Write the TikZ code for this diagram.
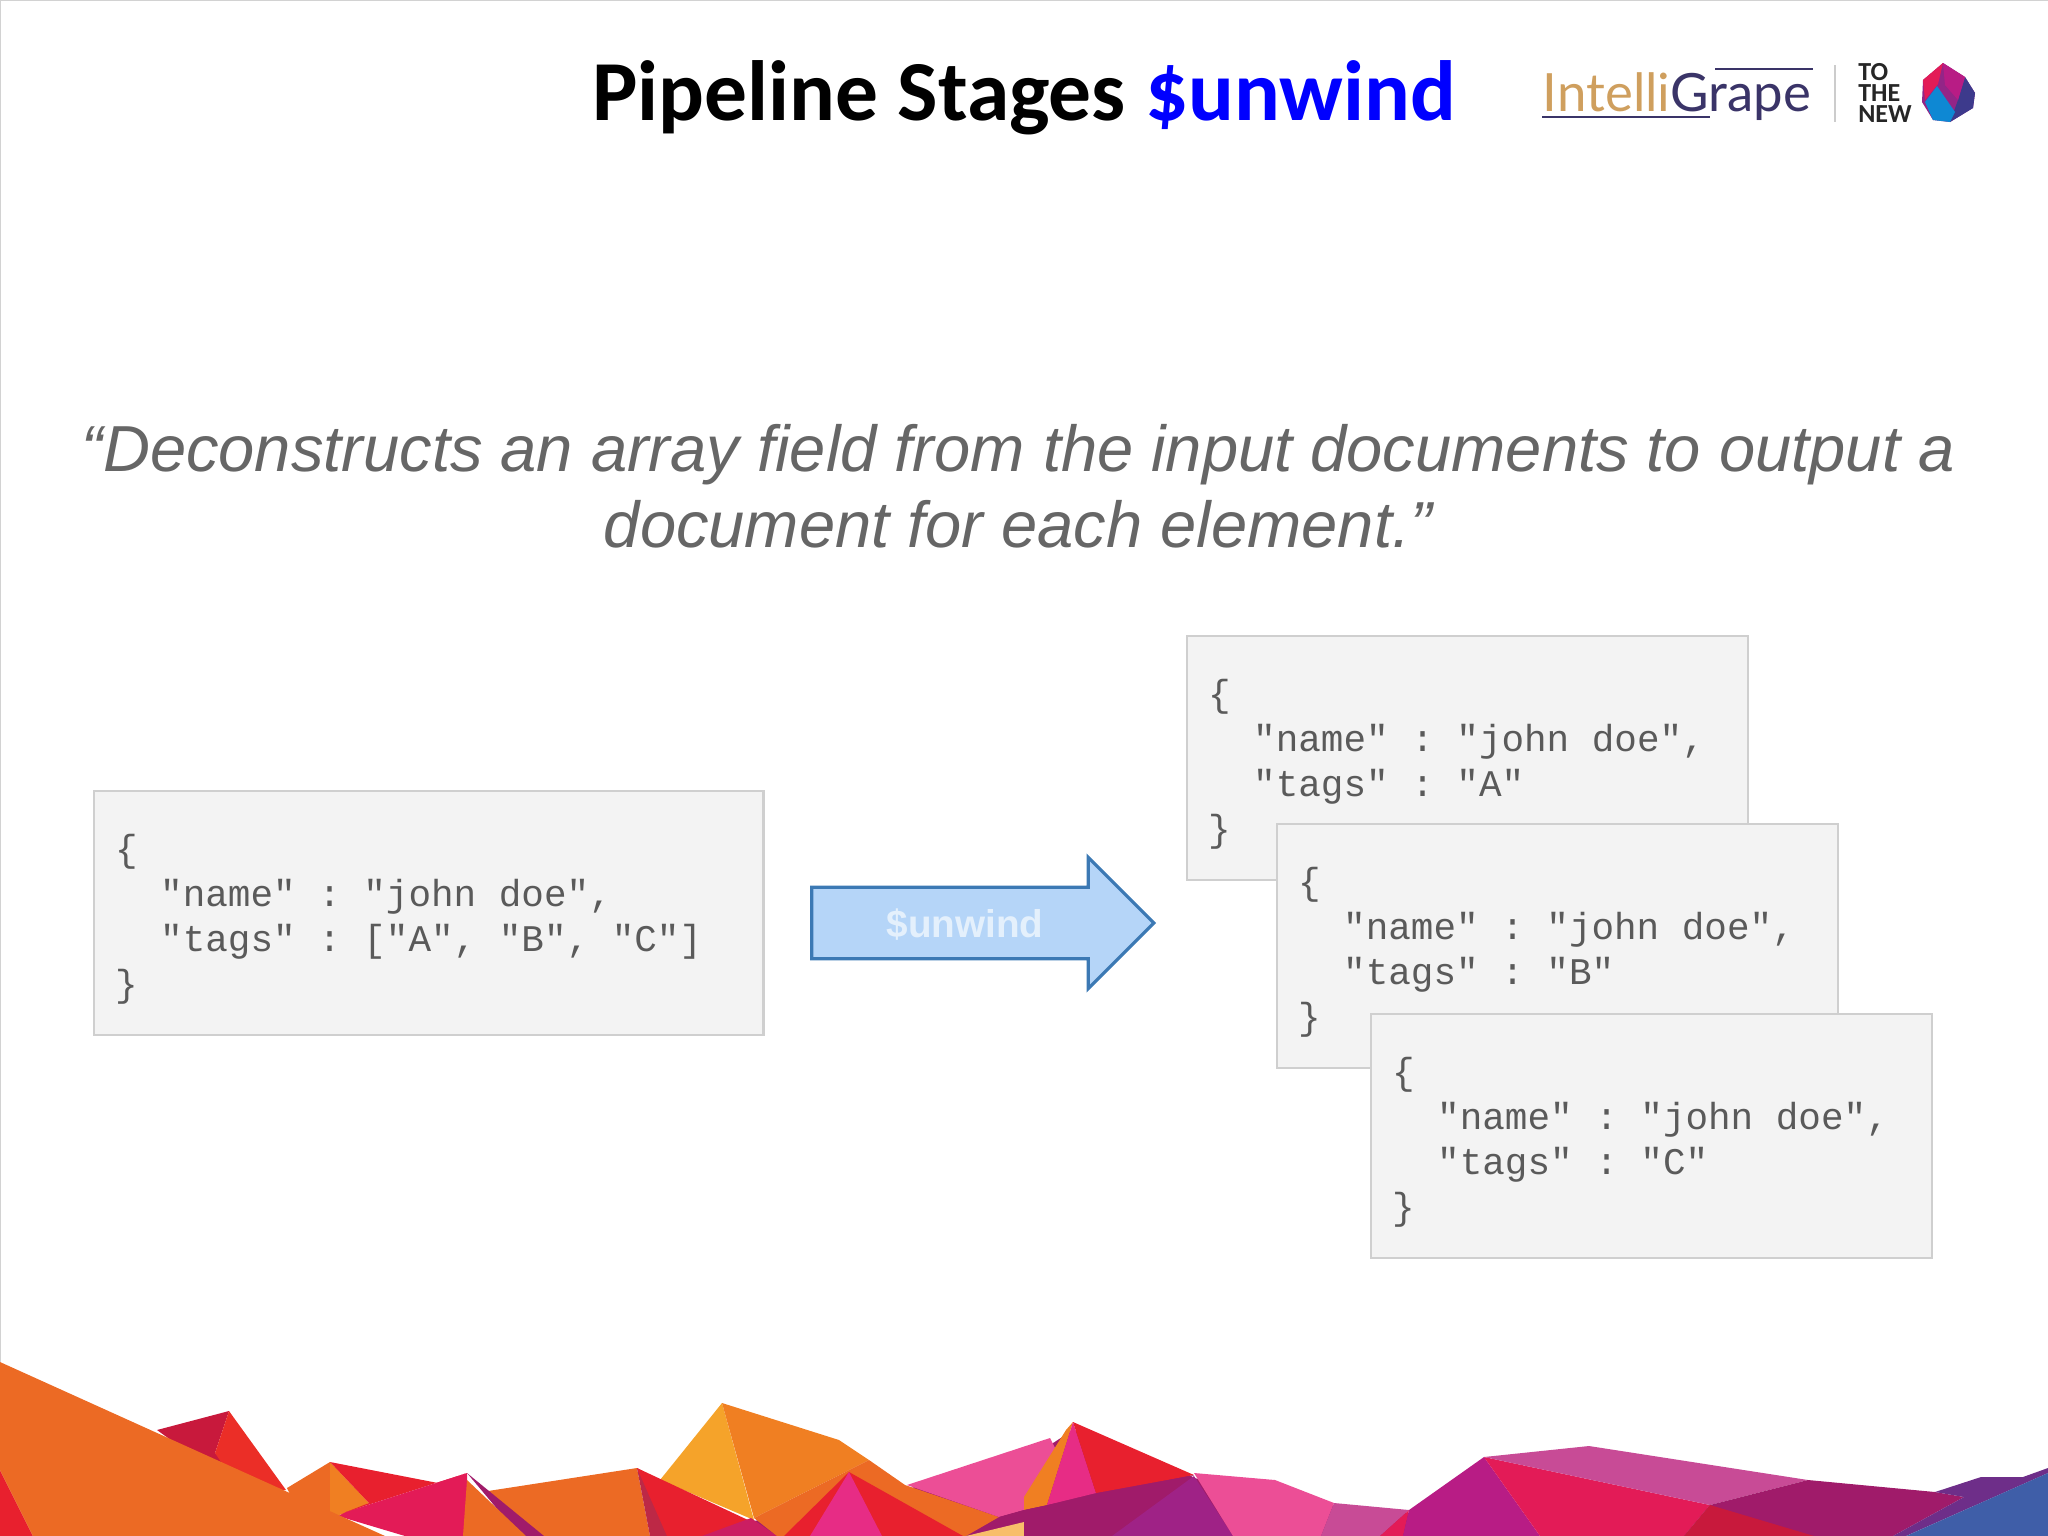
\documentclass[tikz,border=0pt]{standalone}
\usepackage{fontspec}
\setmainfont{Liberation Sans}
\setmonofont{Liberation Mono}
\newfontfamily\titlefont{Carlito}
\newfontfamily\logofont{Lato}
\usetikzlibrary{arrows.meta, positioning, shapes.arrows}
\definecolor{CTitleBlue}{HTML}{0000FF}
\definecolor{CQuote}{HTML}{666666}
\definecolor{CBoxFill}{HTML}{F3F3F3}
\definecolor{CBoxEdge}{HTML}{CFCFCF}
\definecolor{CCode}{HTML}{5A5A5A}
\definecolor{CArrowFill}{HTML}{B5D5F8}
\definecolor{CArrowEdge}{HTML}{3C79B4}
\definecolor{CArrowText}{HTML}{E4F0FC}
\definecolor{CLogoTan}{HTML}{CF9F5E}
\definecolor{CLogoNavy}{HTML}{3A3468}
\definecolor{COrange}{HTML}{EC6A24}
\definecolor{COrangeLight}{HTML}{F07F22}
\definecolor{CYellow}{HTML}{F5A32A}
\definecolor{CRed}{HTML}{E8202E}
\definecolor{CRedDark}{HTML}{C8193C}
\definecolor{CCrimson}{HTML}{E31B57}
\definecolor{CPink}{HTML}{E72C85}
\definecolor{CPinkLight}{HTML}{EC4E96}
\definecolor{CMauve}{HTML}{C84B96}
\definecolor{CPurple}{HTML}{B81C85}
\definecolor{CMaroon}{HTML}{A01B6A}
\definecolor{CNavy}{HTML}{3D3A8C}
\definecolor{CBlue}{HTML}{3F5EA8}
\tikzset{
    docbox/.style={draw=CBoxEdge, line width=0.6pt, fill=CBoxFill, anchor=north west, text=CCode,
        font=\ttfamily\fontsize{10.7}{12.8}\selectfont, align=flush left, inner xsep=0.21cm, inner ysep=0pt,
        text width=5.19cm, minimum height=2.44cm},
}

\begin{document}
\begin{tikzpicture}[x=0.01cm, y=-0.01cm]
    \def\jsondoc#1{\rule{0pt}{11pt}\{\\\ \ "name" : "john doe",\\\ \ "tags" : #1\\\}}
    \useasboundingbox (0,0) rectangle (2048,1536);

    % Slide edge
    \draw[gray!35, line width=0.6pt] (0,1362) -- (0,0) -- (2048,0);

    % Title
    \node[font=\titlefont\bfseries\fontsize{24.3}{28}\selectfont] (title) at (1024,98) {Pipeline Stages \textcolor{CTitleBlue}{\$unwind}};

    % Logo
    \node[font=\logofont\fontsize{15}{18}\selectfont, inner sep=0pt] (logoname) at (1677,97) {\textcolor{CLogoTan}{Intelli}\textcolor{CLogoNavy}{Grape}};
    \draw[CLogoNavy, line width=0.7pt] (1715,69) -- (1813,69);
    \draw[CLogoNavy, line width=0.7pt] (1542,117) -- (1710,117);
    \draw[gray!40, line width=0.5pt] (1835,65) -- (1835,122);
    \node[font=\titlefont\bfseries\fontsize{7.4}{5.9}\selectfont, align=left, inner sep=0pt, text=black!85] (logonew) at (1885,93) {TO\\THE\\NEW};
    \fill[CPurple!70!CNavy] (1923,80) -- (1943,63) -- (1965,77) -- (1975,93) -- (1973,108) -- (1950,122) -- (1933,120) -- (1922,102) -- cycle;
    \fill[CNavy] (1965,77) -- (1975,93) -- (1973,108) -- (1950,122) -- (1958,100) -- cycle;
    \fill[CCrimson] (1923,80) -- (1943,63) -- (1938,84) -- (1925,100) -- cycle;
    \fill[CPurple] (1943,63) -- (1965,77) -- (1958,100) -- (1945,85) -- cycle;
    \fill[cyan!70!blue] (1925,102) -- (1937,86) -- (1955,112) -- (1950,122) -- (1933,120) -- cycle;

    % Quote
    \node[font=\itshape\fontsize{18.5}{21.6}\selectfont, text=CQuote, align=center] (quote) at (1018,486) {“Deconstructs an array field from the input documents to output a\\document for each element.”};

    % Input document
    \node[docbox, text width=6.27cm] (input) at (93,790) {\jsondoc{["A", "B", "C"]}};

    % Unwind arrow
    \node[single arrow, draw=CArrowEdge, fill=CArrowFill, line width=0.9pt, minimum height=3.42cm, single arrow head extend=0.30cm, single arrow head indent=0pt, inner xsep=0pt, inner ysep=4.7pt, text height=9.1pt, text depth=0.9pt, font=\bfseries\fontsize{11}{13}\selectfont, text=CArrowText] (unwind) at (965,923) {\$unwind};

    % Output documents
    \node[docbox] (outa) at (1186,635) {\jsondoc{"A"}};
    \node[docbox] (outb) at (1276,823) {\jsondoc{"B"}};
    \node[docbox] (outc) at (1370,1013) {\jsondoc{"C"}};

    % Mountains, base under the faces
    \fill[CMaroon] (754,1521) -- (905,1490) -- (1050,1445) -- (1073,1430) -- (1194,1478) -- (1334,1506) -- (1409,1513) -- (1484,1462) -- (1500,1536) -- (754,1536) -- cycle;

    % Mountains, back faces
    \fill[CRedDark] (157,1430) -- (229,1411) -- (215,1453) -- (250,1480) -- (240,1490) -- cycle;
    \fill[CRed!85!orange] (229,1411) -- (286,1490) -- (240,1490) -- (215,1453) -- cycle;
    \fill[COrange] (287,1488) -- (330,1462) -- (330,1530) -- (300,1515) -- cycle;
    \fill[COrangeLight] (330,1462) -- (369,1503) -- (346,1514) -- (330,1516) -- cycle;
    \fill[CRed] (330,1462) -- (438,1483) -- (467,1473) -- (346,1512) -- (369,1503) -- cycle;
    \fill[CCrimson] (467,1473) -- (346,1512) -- (338,1516) -- (405,1536) -- (467,1536) -- cycle;
    \fill[COrange] (488,1491) -- (637,1468) -- (650,1536) -- (530,1536) -- cycle;
    \fill[CMaroon] (467,1473) -- (544,1536) -- (520,1536) -- cycle;
    \fill[COrange] (467,1480) -- (526,1536) -- (463,1536) -- cycle;

    % Mountains, middle
    \fill[CYellow] (722,1403) -- (660,1480) -- (754,1520) -- cycle;
    \fill[CRedDark!85!gray] (637,1468) -- (667,1485) -- (667,1536) -- (650,1536) -- cycle;
    \fill[CRed] (637,1468) -- (748,1520) -- (777,1536) -- (667,1536) -- cycle;
    \fill[CPurple!60!CRed] (751,1518) -- (777,1536) -- (702,1536) -- cycle;
    \fill[COrangeLight] (722,1403) -- (754,1518) -- (869,1460) -- (839,1440) -- cycle;
    \fill[COrange] (869,1460) -- (905,1485) -- (999,1517) -- (966,1536) -- (777,1536) -- (754,1518) -- cycle;
    \fill[CRed] (849,1472) -- (963,1536) -- (784,1536) -- cycle;
    \fill[CPink] (849,1472) -- (882,1536) -- (810,1536) -- cycle;
    \fill[CPinkLight] (907,1485) -- (1050,1438) -- (1057,1452) -- (1024,1510) -- (999,1517) -- cycle;
    \fill[CMaroon] (999,1517) -- (1024,1510) -- (1024,1523) -- (1009,1528) -- cycle;
    \fill[CYellow!70!white] (966,1536) -- (1024,1522) -- (1050,1536) -- cycle;

    % Mountains, right of the middle
    \fill[COrangeLight] (1066,1430) -- (1024,1497) -- (1024,1510) -- (1047,1505) -- (1073,1422) -- cycle;
    \fill[CPink] (1073,1422) -- (1096,1493) -- (1047,1505) -- cycle;
    \fill[CRed] (1073,1422) -- (1194,1475) -- (1096,1493) -- cycle;
    \fill[CMaroon] (1194,1475) -- (1024,1510) -- (1024,1536) -- (1112,1536) -- cycle;
    \fill[CPurple!80!CNavy] (1194,1476) -- (1233,1536) -- (1112,1536) -- cycle;
    \fill[CPinkLight] (1194,1473) -- (1275,1480) -- (1334,1503) -- (1321,1536) -- (1233,1536) -- cycle;
    \fill[CMauve] (1334,1503) -- (1409,1510) -- (1380,1536) -- (1321,1536) -- cycle;
    \fill[CCrimson] (1409,1510) -- (1380,1536) -- (1403,1536) -- cycle;

    % Mountains, right
    \fill[CPurple] (1484,1457) -- (1540,1536) -- (1403,1536) -- (1409,1510) -- cycle;
    \fill[CCrimson] (1484,1457) -- (1710,1505) -- (1684,1536) -- (1540,1536) -- cycle;
    \fill[CMauve] (1484,1457) -- (1589,1446) -- (1808,1480) -- (1710,1505) -- cycle;
    \fill[CMaroon] (1710,1505) -- (1808,1480) -- (1935,1492) -- (1964,1497) -- (1893,1536) -- (1684,1536) -- cycle;
    \fill[CRedDark] (1710,1505) -- (1684,1536) -- (1814,1536) -- cycle;
    \fill[CPurple!40!CNavy] (1935,1492) -- (1981,1477) -- (2023,1477) -- (2048,1468) -- (2048,1473) -- (1906,1536) -- (1893,1536) -- (1964,1497) -- cycle;
    \fill[CBlue] (2048,1473) -- (2048,1536) -- (1906,1536) -- cycle;

    % Big orange slope
    \fill[CRed] (0,1470) -- (33,1536) -- (0,1536) -- cycle;
    \fill[COrange] (0,1362) -- (385,1536) -- (33,1536) -- (0,1470) -- cycle;
\end{tikzpicture}
\end{document}
